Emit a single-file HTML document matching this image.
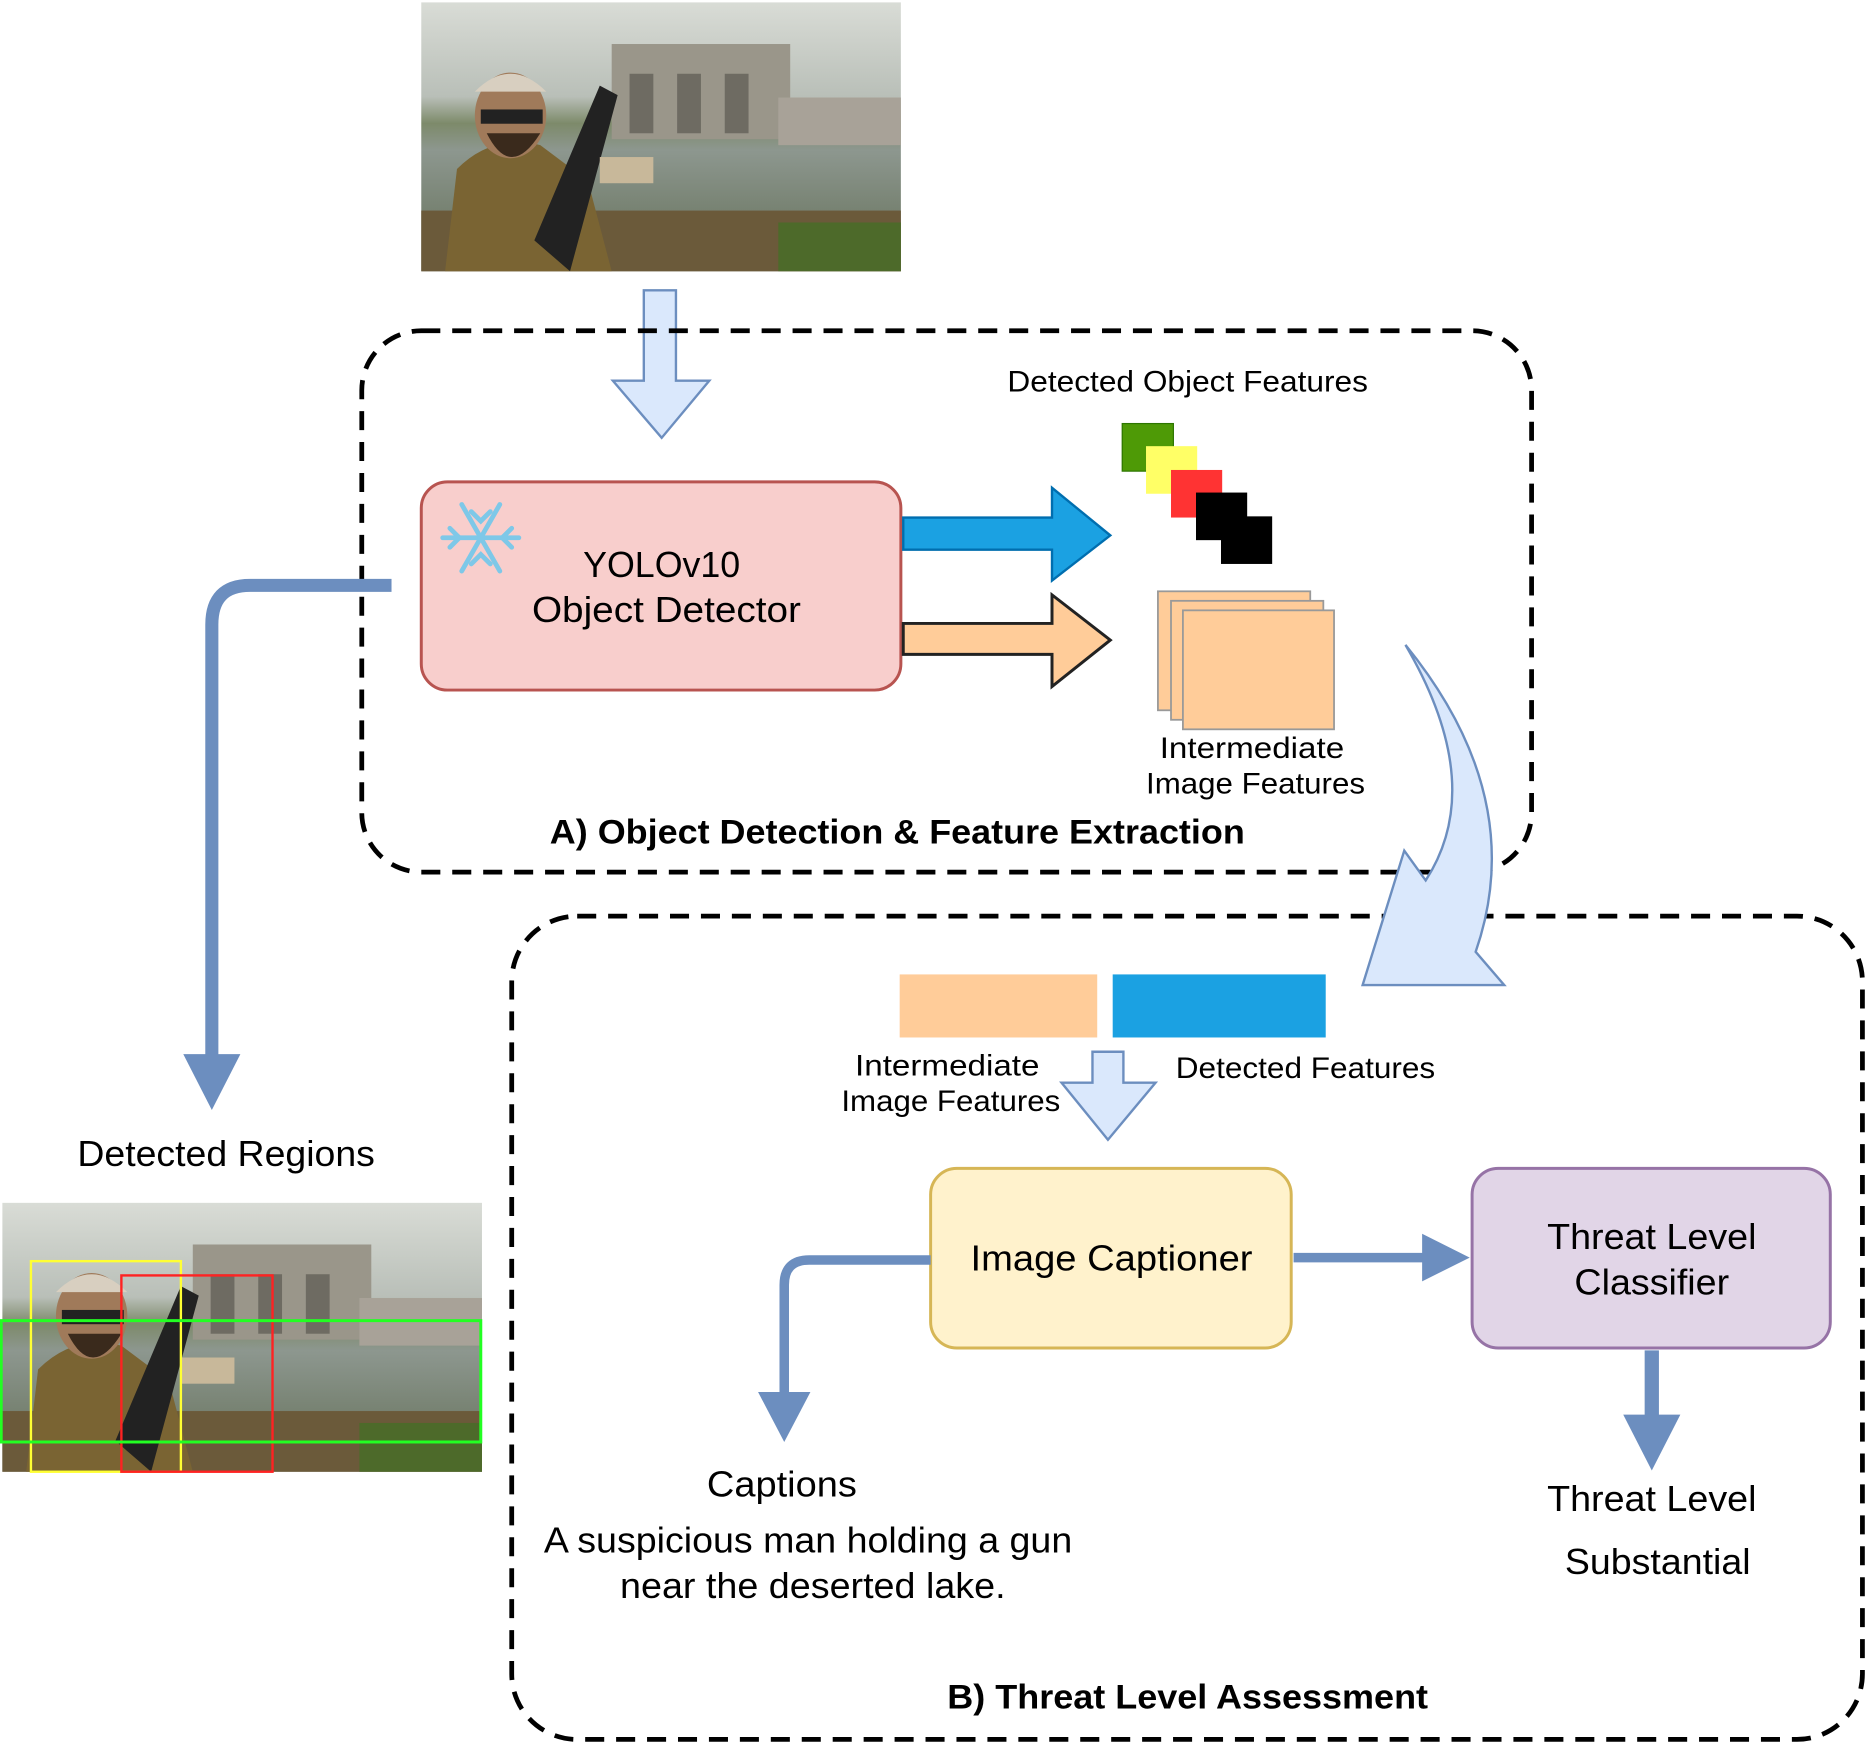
<!DOCTYPE html>
<html><head><meta charset="utf-8"><style>
html,body{margin:0;padding:0;background:#fff;}
svg{display:block;}
text{font-family:"Liberation Sans","DejaVu Sans",sans-serif;}
</style></head><body>
<svg width="1866" height="1743" viewBox="0 0 1568 1465" preserveAspectRatio="none" xmlns="http://www.w3.org/2000/svg">
<defs>
<linearGradient id="sky" x1="0" y1="0" x2="0" y2="1">
<stop offset="0" stop-color="#d9dcd6"/><stop offset="0.35" stop-color="#b9bfb8"/><stop offset="0.45" stop-color="#7d8a6a"/><stop offset="0.55" stop-color="#8d978f"/><stop offset="0.8" stop-color="#75806f"/><stop offset="1" stop-color="#5a5a40"/>
</linearGradient>
<g id="photo">
<rect x="0" y="0" width="403" height="226" fill="url(#sky)"/>
<rect x="160" y="35" width="150" height="80" fill="#9a968a"/>
<rect x="175" y="60" width="20" height="50" fill="#6e6b62"/>
<rect x="215" y="60" width="20" height="50" fill="#6e6b62"/>
<rect x="255" y="60" width="20" height="50" fill="#6e6b62"/>
<rect x="300" y="80" width="103" height="40" fill="#a8a298"/>
<rect x="0" y="175" width="403" height="51" fill="#6b5a3a"/>
<path d="M20 226 L30 140 Q60 110 100 120 L140 150 L160 226 Z" fill="#7a6433"/>
<ellipse cx="75" cy="95" rx="30" ry="36" fill="#a07a5a"/>
<path d="M45 75 Q75 45 105 75 Z" fill="#d8cfc0"/>
<rect x="50" y="90" width="52" height="12" fill="#222"/>
<path d="M55 110 Q75 150 100 110 Z" fill="#3a2a1c"/>
<path d="M95 200 L150 70 L165 78 L125 226 Z" fill="#222"/>
<rect x="150" y="130" width="45" height="22" fill="#c8b89a"/>
<rect x="300" y="185" width="103" height="41" fill="#4d6a2a"/>
</g>
</defs>

<use href="#photo" x="354" y="2"/>

<path d="M541 244 L568 244 L568 320 L596 320 L556 368 L515 320 L541 320 Z" fill="#dae8fc" stroke="#6c8ebf" stroke-width="2"/>

<rect x="304" y="278" width="983" height="455" rx="50" fill="none" stroke="#000" stroke-width="4" stroke-dasharray="16 10"/>

<rect x="354" y="405" width="403" height="175" rx="22" fill="#f8cecc" stroke="#b85450" stroke-width="2.5"/>
<text x="556" y="485" font-size="30" text-anchor="middle" fill="#000" textLength="132" lengthAdjust="spacingAndGlyphs">YOLOv10</text>
<text x="560" y="523" font-size="30" text-anchor="middle" fill="#000" textLength="226" lengthAdjust="spacingAndGlyphs">Object Detector</text>
<g stroke="#7ec8e8" stroke-width="4" stroke-linecap="round" fill="none" transform="translate(404,452)">
<line x1="-32" y1="0" x2="32" y2="0"/><line x1="-16" y1="-28" x2="16" y2="28"/><line x1="16" y1="-28" x2="-16" y2="28"/>
<path d="M-8 -22 L0 -14 L8 -22 M-8 22 L0 14 L8 22 M-26 -8 L-18 0 L-26 8 M26 -8 L18 0 L26 8"/>
</g>

<path d="M759 435 L884 435 L884 410 L933 450 L884 488 L884 462 L759 462 Z" fill="#1ba1e2" stroke="#006eaf" stroke-width="2"/>
<path d="M759 524 L884 524 L884 500 L933 538 L884 577 L884 550 L759 550 Z" fill="#ffcc99" stroke="#222" stroke-width="2.5"/>

<text x="998" y="329" font-size="25" text-anchor="middle" fill="#000" textLength="303" lengthAdjust="spacingAndGlyphs">Detected Object Features</text>
<rect x="943" y="356" width="43" height="40" fill="#4e9a06" stroke="#2d7600" stroke-width="1"/>
<rect x="963" y="375" width="43" height="40" fill="#ffff66"/>
<rect x="984" y="395" width="43" height="40" fill="#ff3333"/>
<rect x="1005" y="414" width="43" height="40" fill="#000"/>
<rect x="1026" y="434" width="43" height="40" fill="#000"/>

<rect x="973" y="497" width="128" height="100" fill="#ffcc99" stroke="#999" stroke-width="1.5"/>
<rect x="984" y="505" width="128" height="100" fill="#ffcc99" stroke="#999" stroke-width="1.5"/>
<rect x="994" y="513" width="127" height="100" fill="#ffcc99" stroke="#999" stroke-width="1.5"/>
<text x="1052" y="637" font-size="25" text-anchor="middle" fill="#000" textLength="155" lengthAdjust="spacingAndGlyphs">Intermediate</text>
<text x="1055" y="667" font-size="25" text-anchor="middle" fill="#000" textLength="184" lengthAdjust="spacingAndGlyphs">Image Features</text>
<text x="754" y="709" font-size="29" font-weight="bold" text-anchor="middle" fill="#000" textLength="584" lengthAdjust="spacingAndGlyphs">A) Object Detection &amp; Feature Extraction</text>

<rect x="430" y="770" width="1135" height="692" rx="55" fill="none" stroke="#000" stroke-width="4" stroke-dasharray="16 10"/>

<path d="M1181 542 Q1285 670 1240 800 L1264 828 L1145 828 L1180 715 L1198 740 Q1250 660 1181 542 Z" fill="#dae8fc" stroke="#6c8ebf" stroke-width="2"/>

<path d="M329 492 L210 492 Q178 492 178 525 L178 890" fill="none" stroke="#6c8ebf" stroke-width="11"/>
<path d="M154 886 L202 886 L178 933 Z" fill="#6c8ebf"/>
<text x="190" y="980" font-size="30" text-anchor="middle" fill="#000" textLength="250" lengthAdjust="spacingAndGlyphs">Detected Regions</text>

<use href="#photo" x="2" y="1011"/>
<rect x="26" y="1060" width="126" height="177" fill="none" stroke="#ffff33" stroke-width="2"/>
<rect x="102" y="1072" width="127" height="165" fill="none" stroke="#ff2222" stroke-width="2"/>
<rect x="1" y="1110" width="403" height="102" fill="none" stroke="#22ff22" stroke-width="2.5"/>

<rect x="756" y="819" width="166" height="53" fill="#ffcc99"/>
<rect x="935" y="819" width="179" height="53" fill="#1ba1e2"/>
<text x="796" y="904" font-size="25" text-anchor="middle" fill="#000" textLength="155" lengthAdjust="spacingAndGlyphs">Intermediate</text>
<text x="799" y="934" font-size="25" text-anchor="middle" fill="#000" textLength="184" lengthAdjust="spacingAndGlyphs">Image Features</text>
<text x="1097" y="906" font-size="25" text-anchor="middle" fill="#000" textLength="218" lengthAdjust="spacingAndGlyphs">Detected Features</text>
<path d="M918 884 L944 884 L944 910 L971 910 L931 958 L892 910 L918 910 Z" fill="#dae8fc" stroke="#6c8ebf" stroke-width="2"/>

<rect x="782" y="982" width="303" height="151" rx="22" fill="#fff2cc" stroke="#d6b656" stroke-width="2.5"/>
<text x="934" y="1068" font-size="30" text-anchor="middle" fill="#000" textLength="237" lengthAdjust="spacingAndGlyphs">Image Captioner</text>

<rect x="1237" y="982" width="301" height="151" rx="22" fill="#e1d5e7" stroke="#9673a6" stroke-width="2.5"/>
<text x="1388" y="1050" font-size="30" text-anchor="middle" fill="#000" textLength="176" lengthAdjust="spacingAndGlyphs">Threat Level</text>
<text x="1388" y="1088" font-size="30" text-anchor="middle" fill="#000" textLength="130" lengthAdjust="spacingAndGlyphs">Classifier</text>

<line x1="1087" y1="1057" x2="1200" y2="1057" stroke="#6c8ebf" stroke-width="8"/>
<path d="M1195 1037 L1235 1057 L1195 1077 Z" fill="#6c8ebf"/>

<path d="M782 1059 L680 1059 Q659 1059 659 1080 L659 1175" fill="none" stroke="#6c8ebf" stroke-width="8"/>
<path d="M637 1170 L681 1170 L659 1212 Z" fill="#6c8ebf"/>
<text x="657" y="1258" font-size="30" text-anchor="middle" fill="#000" textLength="126" lengthAdjust="spacingAndGlyphs">Captions</text>
<text x="679" y="1305" font-size="30" text-anchor="middle" fill="#000" textLength="444" lengthAdjust="spacingAndGlyphs">A suspicious man holding a gun</text>
<text x="683" y="1343" font-size="30" text-anchor="middle" fill="#000" textLength="324" lengthAdjust="spacingAndGlyphs">near the deserted lake.</text>

<line x1="1388" y1="1135" x2="1388" y2="1195" stroke="#6c8ebf" stroke-width="12"/>
<path d="M1364 1189 L1412 1189 L1388 1236 Z" fill="#6c8ebf"/>
<text x="1388" y="1270" font-size="30" text-anchor="middle" fill="#000" textLength="176" lengthAdjust="spacingAndGlyphs">Threat Level</text>
<text x="1393" y="1323" font-size="30" text-anchor="middle" fill="#000" textLength="156" lengthAdjust="spacingAndGlyphs">Substantial</text>

<text x="998" y="1436" font-size="29" font-weight="bold" text-anchor="middle" fill="#000" textLength="404" lengthAdjust="spacingAndGlyphs">B) Threat Level Assessment</text>
</svg>
</body></html>
